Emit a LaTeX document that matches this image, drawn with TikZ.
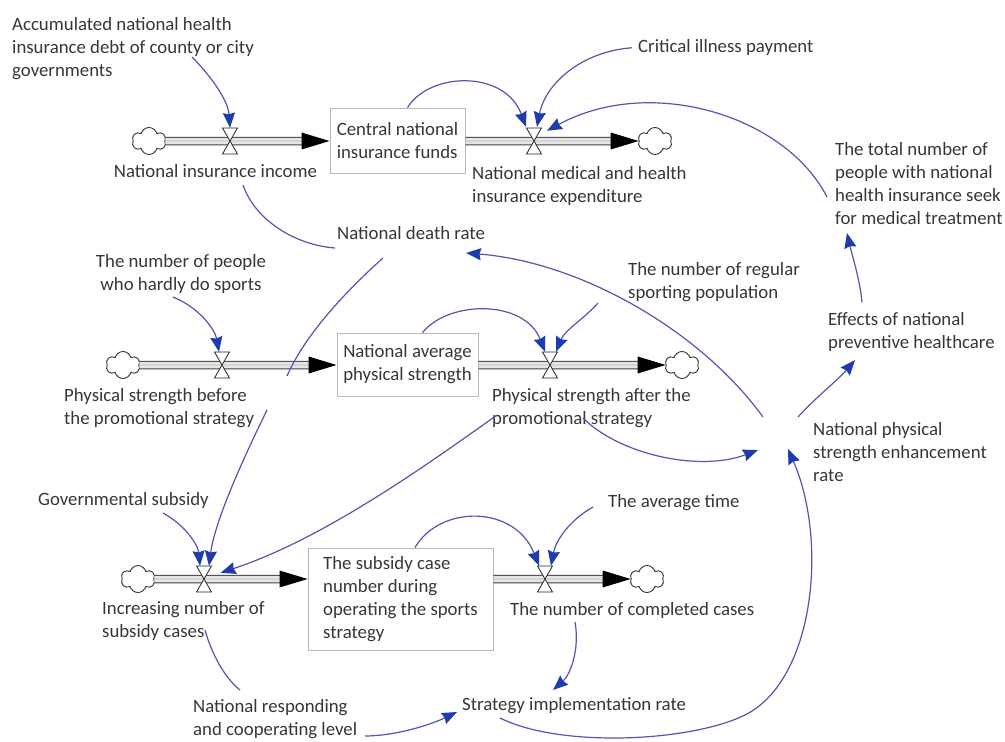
\documentclass[tikz,border=0pt]{standalone}
\usepackage{fontspec}
\setmainfont{Carlito}
\usetikzlibrary{arrows.meta,shapes.symbols,calc}
\definecolor{linkblue}{RGB}{85,85,175}
\definecolor{tipblue}{RGB}{30,60,175}
\definecolor{txt}{RGB}{55,55,55}
\newcommand{\pipeflow}[2]{%
  \draw[pipeline] (#1) -- ($(#2)+(-20,0)$);
  \draw[pipemid] (#1) -- ($(#2)+(-20,0)$);
  \fill[black] (#2) -- ++(-28,-8.5) -- ++(0,17) -- cycle;}
\tikzset{
  lbl/.style={inner sep=0pt, font=\fontsize{18.8}{23}\selectfont, text=txt, align=left},
  stockbox/.style={draw=gray!55, fill=white, line width=0.9pt, inner sep=4pt, font=\fontsize{18.8}{23}\selectfont, text=txt, align=left},
  link/.style={draw=linkblue, line width=1.2pt, -{Stealth[length=15pt,width=12pt,inset=1.5pt,color=tipblue]}},
  plainlink/.style={draw=linkblue, line width=1.2pt},
  pipeline/.style={draw=black!75, line width=1pt, double=gray!20, double distance=6.5pt},
  pipemid/.style={draw=gray!55, line width=0.6pt},
  cloudnode/.style={cloud, cloud puffs=6, draw=black!80, fill=white, line width=0.9pt, minimum width=34pt, minimum height=27pt, aspect=1.3, inner sep=0pt},
  valvept/.style={minimum width=15pt, minimum height=26pt, inner sep=0pt},
  valve/.pic={
    \filldraw[fill=white, draw=black!85, line width=0.8pt] (-7.5,-13) -- (7.5,-13) -- (0,0) -- cycle;
    \filldraw[fill=white, draw=black!85, line width=0.8pt] (-7.5,13) -- (7.5,13) -- (0,0) -- cycle;
  },
}
\begin{document}
\begin{tikzpicture}[x=1pt,y=-1pt]
\path[use as bounding box] (0,0) rectangle (1005,742);
\fill[white] (0,0) rectangle (1005,742);

% stocks
\node[stockbox, minimum width=135pt, minimum height=65pt] (box1) at (397.5,140.5) {Central national\\insurance funds};
\node[stockbox, minimum width=141pt, minimum height=63pt] (box2) at (407.5,364.5) {National average\\physical strength};
\node[stockbox, minimum width=185pt, minimum height=102pt] (box3) at (400.5,599) {The subsidy case\\number during\\operating the sports\\strategy};

% clouds
\node[cloudnode] (c1) at (149,141) {};
\node[cloudnode] (c2) at (655,141) {};
\node[cloudnode] (c3) at (123,365) {};
\node[cloudnode] (c4) at (682,365) {};
\node[cloudnode] (c5) at (138,579) {};
\node[cloudnode] (c6) at (647,579) {};

% pipe ends
\coordinate (p1b) at (c1 -| box1.west);
\coordinate (p2a) at (c1 -| box1.east);
\coordinate (p3b) at (c3 -| box2.west);
\coordinate (p4a) at (c3 -| box2.east);
\coordinate (p5b) at (c5 -| box3.west);
\coordinate (p6a) at (c5 -| box3.east);

\pipeflow{c1.east}{p1b}
\pipeflow{p2a}{c2.west}
\pipeflow{c3.east}{p3b}
\pipeflow{p4a}{c4.west}
\pipeflow{c5.east}{p5b}
\pipeflow{p6a}{c6.west}

% valves
\node[valvept] (v1) at (230,141) {};   \pic at (v1) {valve};
\node[valvept] (v1r) at (534,141) {};  \pic at (v1r) {valve};
\node[valvept] (v2) at (222,365) {};   \pic at (v2) {valve};
\node[valvept] (v2r) at (550,365) {};  \pic at (v2r) {valve};
\node[valvept] (v3) at (204,579) {};   \pic at (v3) {valve};
\node[valvept] (v3r) at (545,579) {};  \pic at (v3r) {valve};

% labels
\node[lbl, anchor=north west] (acc) at (12,17.5) {Accumulated national health\\insurance debt of county or city\\governments};
\node[lbl, anchor=north west] (crit) at (638,39.5) {Critical illness payment};
\node[lbl, anchor=north, align=center] (nii) at (215.5,164.5) {National insurance income};
\node[lbl, anchor=north west] (nmh) at (472,166) {National medical and health\\insurance expenditure};
\node[lbl, anchor=north west] (tot) at (835,142.5) {The total number of\\people with national\\health insurance seek\\for medical treatment};
\node[lbl, anchor=north west] (ndr) at (337,226.5) {National death rate};
\node[lbl, anchor=north, align=center] (hard) at (181,254.5) {The number of people\\who hardly do sports};
\node[lbl, anchor=north west] (reg) at (628,262.5) {The number of regular\\sporting population};
\node[lbl, anchor=north west] (eff) at (828,312.5) {Effects of national\\preventive healthcare};
\node[lbl, anchor=north west] (psb) at (64,388.5) {Physical strength before\\the promotional strategy};
\node[lbl, anchor=north west] (psa) at (492,388.5) {Physical strength after the\\promotional strategy};
\node[lbl, anchor=north west] (nps) at (813,422.5) {National physical\\strength enhancement\\rate};
\node[lbl, anchor=north west] (gov) at (38,492.5) {Governmental subsidy};
\node[lbl, anchor=north west] (avg) at (608,494.5) {The average time};
\node[lbl, anchor=north west] (inc) at (102,601.5) {Increasing number of\\subsidy cases};
\node[lbl, anchor=north west] (ncc) at (510,602.5) {The number of completed cases};
\node[lbl, anchor=north west] (sir) at (462,697.5) {Strategy implementation rate};
\node[lbl, anchor=north west] (nrc) at (193,699) {National responding\\and cooperating level};

% links
\draw[link] ($(acc.north west)+(180,39.5)$) .. controls +(18,18) and +(-2,-28) .. (v1.north);
\draw[link] ($(crit.west)+(-6,0)$) .. controls +(-52,4) and +(8,-42) .. ($(v1r.north)+(3,-1)$);
\draw[link] ($(box1.north)+(10,0)$) .. controls +(22.5,-36) and +(-21,-57) .. ($(v1r.north)+(-8,-1)$);
\draw[link] ($(tot.north west)+(-8,54.5)$) .. controls +(-42,-82) and +(103,-56) .. ($(v1r.north)+(13,3)$);
\draw[plainlink] ($(nii.north)+(27.5,20.5)$) .. controls +(12,35) and +(-40,-3) .. ($(ndr.north west)+(-2,21.5)$);
\draw[plainlink] ($(ndr.north west)+(46,31.5)$) .. controls +(-38,34) and +(18,-41) .. ($(psb.north west)+(223,-12.5)$);
\draw[link] ($(nps.north west)+(-50,-5.5)$) .. controls +(-63,-87) and +(114,9) .. ($(ndr.north west)+(129,26.5)$);
\draw[link] ($(hard.north)+(-8,42.5)$) .. controls +(27,11) and +(-4,-22) .. ($(v2.north)+(-3,0)$);
\draw[link] ($(box2.north)+(15,0)$) .. controls +(27,-33) and +(-20,-52) .. ($(v2r.north)+(-5,0)$);
\draw[link] ($(reg.north west)+(-30,40.5)$) .. controls +(-13,15) and +(9,-22) .. ($(v2r.north)+(6,0)$);
\draw[link] ($(nps.north west)+(-15,-5.5)$) .. controls +(17,-19) and +(-17,20) .. ($(eff.north west)+(27,47.5)$);
\draw[link] ($(eff.north west)+(34,-10)$) .. controls +(-2,-23) and +(5,22) .. ($(tot.north west)+(12,90.5)$);
\draw[link] ($(psa.north west)+(91,29.5)$) .. controls +(37,37) and +(-58,22) .. ($(nps.north west)+(-55,27.5)$);
\draw[link] ($(sir.north west)+(38,20.5)$) .. controls +(60,30) and (690,742) .. (745,715) .. controls (815,680) and (828,540) .. ($(nps.north west)+(-25,26.5)$);
\draw[link] ($(ncc.north west)+(65,19.5)$) .. controls +(5,28) and +(17,-15) .. ($(sir.north west)+(91,-7.5)$);
\draw[plainlink] ($(inc.north west)+(103,28.5)$) .. controls +(7,25) and +(-15,-12) .. ($(nrc.north west)+(47,-9)$);
\draw[link] ($(nrc.north west)+(172,37)$) .. controls +(30,0) and +(-27,13) .. ($(sir.north west)+(-5,14.5)$);
\draw[link] ($(gov.north west)+(125,20.5)$) .. controls +(22,12) and +(-2,-21) .. ($(v3.north)+(-4,0)$);
\draw[link] ($(psb.north west)+(203,21.5)$) .. controls +(-22,45) and +(6,-46) .. ($(v3.north)+(5,0)$);
\draw[link] ($(psa.north west)+(5,26.5)$) .. controls +(-77,55) and +(100,-33) .. ($(v3.north east)+(9,7)$);
\draw[link] ($(box3.north)+(14.5,0)$) .. controls +(25,-43) and +(-24,-61) .. ($(v3r.north)+(-6,0)$);
\draw[link] ($(avg.north west)+(-15,12.5)$) .. controls +(-23,13) and +(5,-26) .. ($(v3r.north)+(6,0)$);
\end{tikzpicture}
\end{document}
